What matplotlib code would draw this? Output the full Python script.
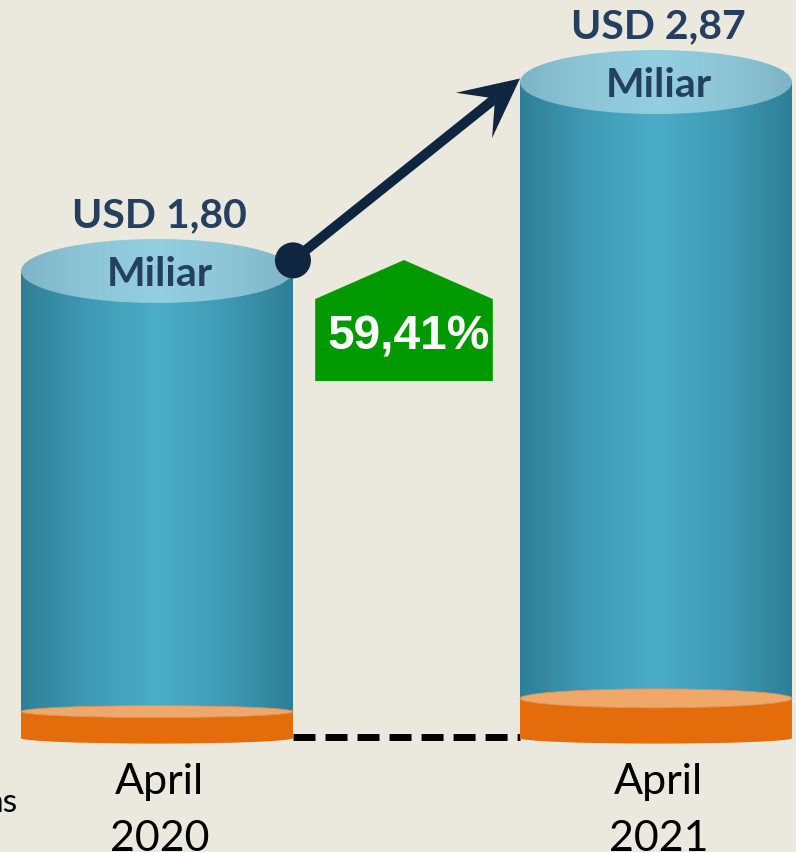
"""Growth infographic: two cylinders with a growth arrow and badge."""

import matplotlib as mpl
import numpy as np

mpl.use("Agg")
import matplotlib.pyplot as plt
from matplotlib.colors import LinearSegmentedColormap
from matplotlib.patches import Circle, Ellipse, Polygon, Rectangle
from matplotlib.transforms import IdentityTransform

months = ["April", "April"]
years = ["2020", "2021"]
values = [1.80, 2.87]
value_labels = ["USD 1,80", "USD 2,87"]
unit_label = "Miliar"
growth_label = "59,41%"
side_note = "ns"

BG = "#ebe8de"
NAVY = "#243f60"
ARROW = "#0f2540"
GREEN = "#009900"
BASE = -0.845          # bottom of the orange discs (hidden y axis)
BAR_W = 0.545
DISC_H = [0.150, 0.225]

body_cmap = LinearSegmentedColormap.from_list(
    "body", ["#2e7f96", "#3f9bb5", "#4badc8", "#3f9bb5", "#2e7f96"])
top_cmap = LinearSegmentedColormap.from_list(
    "top", ["#7fb5c6", "#8cc6d7", "#94cfe1", "#8cc6d7", "#7fb5c6"])

fig = plt.figure(figsize=(7.96, 8.52), dpi=100)
fig.patch.set_facecolor(BG)
ax = fig.add_axes([0, 0, 1, 1])
ax.set_facecolor(BG)

grad = np.linspace(0, 1, 256).reshape(1, -1)
px_y = 176.6  # pixels per value unit
ell_top = 64 / px_y

x = np.arange(len(values))
for i, v in enumerate(values):
    left, right = x[i] - BAR_W / 2, x[i] + BAR_W / 2
    disc_top = BASE + DISC_H[i]

    # blue body
    body = Rectangle((left, disc_top), BAR_W, v - disc_top, facecolor="none",
                     edgecolor="none")
    ax.add_patch(body)
    im = ax.imshow(grad, cmap=body_cmap, aspect="auto", zorder=2,
                   extent=(left, right, disc_top, v), interpolation="bilinear")
    im.set_clip_path(body)

    # top ellipse
    top = Ellipse((x[i], v), BAR_W, ell_top, facecolor="none", edgecolor="none")
    ax.add_patch(top)
    im = ax.imshow(grad, cmap=top_cmap, aspect="auto", zorder=3,
                   extent=(left, right, v - ell_top / 2, v + ell_top / 2),
                   interpolation="bilinear")
    im.set_clip_path(top)

    # orange disc
    ax.add_patch(Ellipse((x[i], BASE), BAR_W, 11 / px_y, facecolor="#e46c0a",
                         edgecolor="none", zorder=4))
    ax.add_patch(Rectangle((left, BASE), BAR_W, DISC_H[i], facecolor="#e46c0a",
                           edgecolor="none", zorder=4))
    disc_ell = (12 if i == 0 else 19) / px_y
    ax.add_patch(Ellipse((x[i], disc_top), BAR_W, disc_ell, facecolor="#f0a86a",
                         edgecolor="#d9935a", linewidth=0.6, zorder=5))

    # labels
    ax.annotate(value_labels[i], (x[i], v), xytext=(2, 31.5),
                textcoords="offset points", ha="center", va="baseline",
                fontsize=29.5, fontweight="bold", color=NAVY, family="Lato", zorder=6)
    ax.annotate(unit_label, (x[i], v), xytext=(2, -10.5),
                textcoords="offset points", ha="center", va="baseline",
                fontsize=29.5, fontweight="bold", color=NAVY, family="Lato", zorder=6)
    ax.annotate(months[i], (x[i], BASE), xytext=(2, -40),
                textcoords="offset points", ha="center", va="baseline",
                fontsize=31, color="black", family="Lato")
    ax.annotate(years[i], (x[i], BASE), xytext=(2, -81.5),
                textcoords="offset points", ha="center", va="baseline",
                fontsize=31, color="black", family="Lato")

# dashed baseline between the discs
ax.plot([x[0] + BAR_W / 2, x[1] - BAR_W / 2], [BASE + 0.005, BASE + 0.005],
        color="black", linewidth=5, dashes=(3.17, 1.44), zorder=1,
        solid_capstyle="butt", dash_capstyle="butt")

ax.set_xlim(-0.3146, 1.2806)
ax.set_ylim(-1.490, 3.3345)
ax.axis("off")

# growth arrow, built in pixel space from the two bar tops
fig.canvas.draw()
p0 = ax.transData.transform((x[0] + BAR_W / 2, values[0] + 0.06))
p1 = ax.transData.transform((x[1] - BAR_W / 2, values[1] + 0.02))
u = (p1 - p0) / np.hypot(*(p1 - p0))
n = np.array([-u[1], u[0]])
notch = p1 - 32 * u
ax.plot([p0[0], notch[0]], [p0[1], notch[1]], color=ARROW, linewidth=7.2,
        transform=IdentityTransform(), zorder=7, solid_capstyle="butt")
head = [p1, p1 - 59 * u + 29 * n, notch, p1 - 59 * u - 29 * n]
ax.add_patch(Polygon(head, closed=True, facecolor=ARROW, edgecolor="none",
                     transform=IdentityTransform(), zorder=8))
ax.add_patch(Circle(p0, 18, facecolor=ARROW, edgecolor="none",
                    transform=IdentityTransform(), zorder=8))

# growth badge between the bars
mid = (x[0] + x[1]) / 2 - 0.005
half = 0.178
b_apex = values[0] + 0.062
b_shoulder = values[0] - 0.159
b_bottom = values[0] - 0.623
ax.add_patch(Polygon([(mid - half, b_bottom), (mid - half, b_shoulder),
                      (mid, b_apex), (mid + half, b_shoulder),
                      (mid + half, b_bottom)], closed=True,
                     facecolor=GREEN, edgecolor="none", zorder=6))
ax.annotate(growth_label, (mid, b_bottom), xytext=(3.5, 22.5),
            textcoords="offset points", ha="center", va="baseline",
            fontsize=34.5, fontweight="bold", color="white",
            family="Liberation Sans", zorder=7)

fig.text(18 / 796, 1 - 812 / 852, side_note, ha="right", va="baseline",
         fontsize=24, color="black", family="Lato")

fig.savefig("out.png", dpi=100, facecolor=BG)
plt.close(fig)
